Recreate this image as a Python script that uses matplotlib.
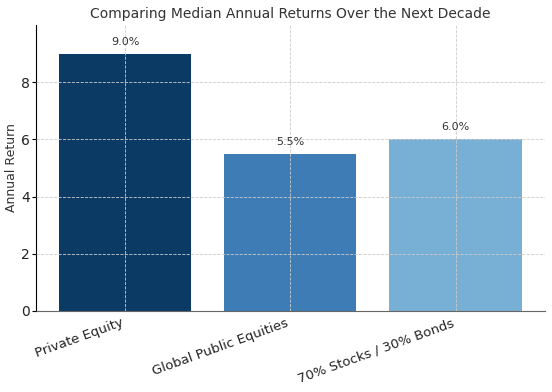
import matplotlib.pyplot as plt

categories = ["Private Equity", "Global Public Equities", "70% Stocks / 30% Bonds"]
returns = [9.0, 5.5, 6.0]
colors = ["#0b3a65", "#3d7cb4", "#78afd4"]

fig = plt.figure(figsize=(5.52, 3.92), dpi=100)
ax = fig.add_axes([0.065, 0.207, 0.922, 0.729])

bars = ax.bar(categories, returns, color=colors, width=0.8, zorder=1)
ax.set_ylim(0, 10)
ax.set_yticks([0, 2, 4, 6, 8])
ax.grid(True, linestyle="--", color="#cccccc", linewidth=0.6, zorder=3)
ax.set_axisbelow(False)

for b, v in zip(bars, returns):
    ax.text(b.get_x() + b.get_width() / 2, v + 0.25, f"{v:.1f}%",
            ha="center", va="bottom", fontsize=8, color="#333333")

ax.set_title("Comparing Median Annual Returns Over the Next Decade",
             fontsize=10, color="#333333", pad=5)
ax.set_ylabel("Annual Return", fontsize=9, color="#333333", labelpad=2)
ax.tick_params(axis="x", labelsize=9.5, length=0, pad=4, labelcolor="#222222")
ax.tick_params(axis="y", labelsize=10, length=3, pad=1.5, labelcolor="#222222")
plt.setp(ax.get_xticklabels(), rotation=20, ha="right")

ax.spines["top"].set_visible(False)
ax.spines["right"].set_visible(False)
ax.spines["bottom"].set_color("#666666")

fig.savefig("out.png", dpi=100)
